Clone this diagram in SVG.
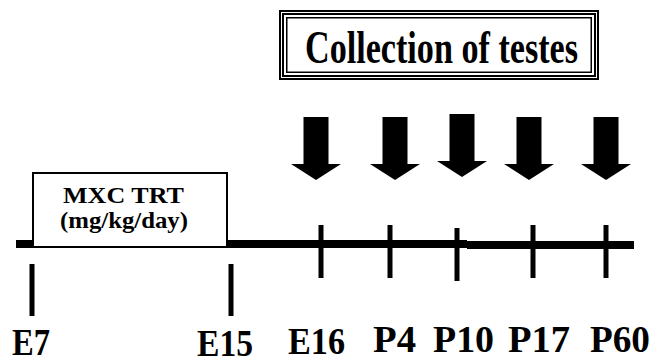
<svg xmlns="http://www.w3.org/2000/svg" width="652" height="358" viewBox="0 0 652 358">
<style>
.t{font-family:"Liberation Serif","Times New Roman",serif;font-weight:bold;fill:#000}
.lab{font-size:33px}
.tick{stroke:#000;stroke-width:5;fill:none}
.arr{fill:#000}
</style>
<rect width="652" height="358" fill="#fff"/>
<g id="title">
<rect x="280" y="11" width="318" height="68" fill="#fff" stroke="#000" stroke-width="2"/>
<rect x="283" y="14" width="312" height="62" fill="none" stroke="#000" stroke-width="2"/>
<rect x="286.75" y="17.75" width="304.5" height="54.5" fill="none" stroke="#000" stroke-width="1.5"/>
<text class="t" transform="translate(305,63) scale(1,1.38)" x="0" y="0" font-size="34" textLength="273" lengthAdjust="spacingAndGlyphs">Collection of testes</text>
</g>
<g id="connectors">
<line x1="16" y1="244" x2="34" y2="244" stroke="#000" stroke-width="8"/>
<line x1="226" y1="244" x2="467" y2="244" stroke="#000" stroke-width="8"/>
<line x1="467" y1="245" x2="634" y2="245" stroke="#000" stroke-width="8"/>
<line class="tick" x1="32" y1="264" x2="32" y2="316"/>
<line class="tick" x1="231" y1="264" x2="231" y2="316"/>
<line class="tick" x1="321" y1="225" x2="321" y2="278"/>
<line class="tick" x1="390" y1="225" x2="390" y2="278"/>
<line class="tick" x1="457" y1="228" x2="457" y2="281"/>
<line class="tick" x1="533" y1="225" x2="533" y2="278"/>
<line class="tick" x1="606" y1="225" x2="606" y2="278"/>
<polygon class="arr" points="303.5,117 328.5,117 328.5,164 341,164 316,180 291,164 303.5,164"/>
<polygon class="arr" points="382.5,117 407.5,117 407.5,164 420,164 395,180 370,164 382.5,164"/>
<polygon class="arr" points="449.5,114 474.5,114 474.5,161 487,161 462,177 437,161 449.5,161"/>
<polygon class="arr" points="516.5,117 541.5,117 541.5,164 554,164 529,180 504,164 516.5,164"/>
<polygon class="arr" points="593.5,117 618.5,117 618.5,164 631,164 606,180 581,164 593.5,164"/>
</g>
<g id="mxc">
<rect x="33" y="173" width="194" height="74" fill="#fff" stroke="#000" stroke-width="2"/>
<text class="t" x="63" y="203" font-size="24" textLength="121" lengthAdjust="spacingAndGlyphs">MXC TRT</text>
<text class="t" x="60" y="228" font-size="24" textLength="128" lengthAdjust="spacingAndGlyphs">(mg/kg/day)</text>
</g>
<g id="labels">
<text class="t lab" transform="translate(12,355) scale(1,1.15)" textLength="38" lengthAdjust="spacingAndGlyphs">E7</text>
<text class="t lab" transform="translate(197,356) scale(1,1.15)" textLength="56" lengthAdjust="spacingAndGlyphs">E15</text>
<text class="t lab" transform="translate(288,354) scale(1,1.15)" textLength="57" lengthAdjust="spacingAndGlyphs">E16</text>
<text class="t lab" transform="translate(373,352) scale(1,1.15)" textLength="43" lengthAdjust="spacingAndGlyphs">P4</text>
<text class="t lab" transform="translate(433,352) scale(1,1.15)" textLength="61" lengthAdjust="spacingAndGlyphs">P10</text>
<text class="t lab" transform="translate(508,352) scale(1,1.15)" textLength="62" lengthAdjust="spacingAndGlyphs">P17</text>
<text class="t lab" transform="translate(590,352) scale(1,1.15)" textLength="60" lengthAdjust="spacingAndGlyphs">P60</text>
</g>
</svg>
